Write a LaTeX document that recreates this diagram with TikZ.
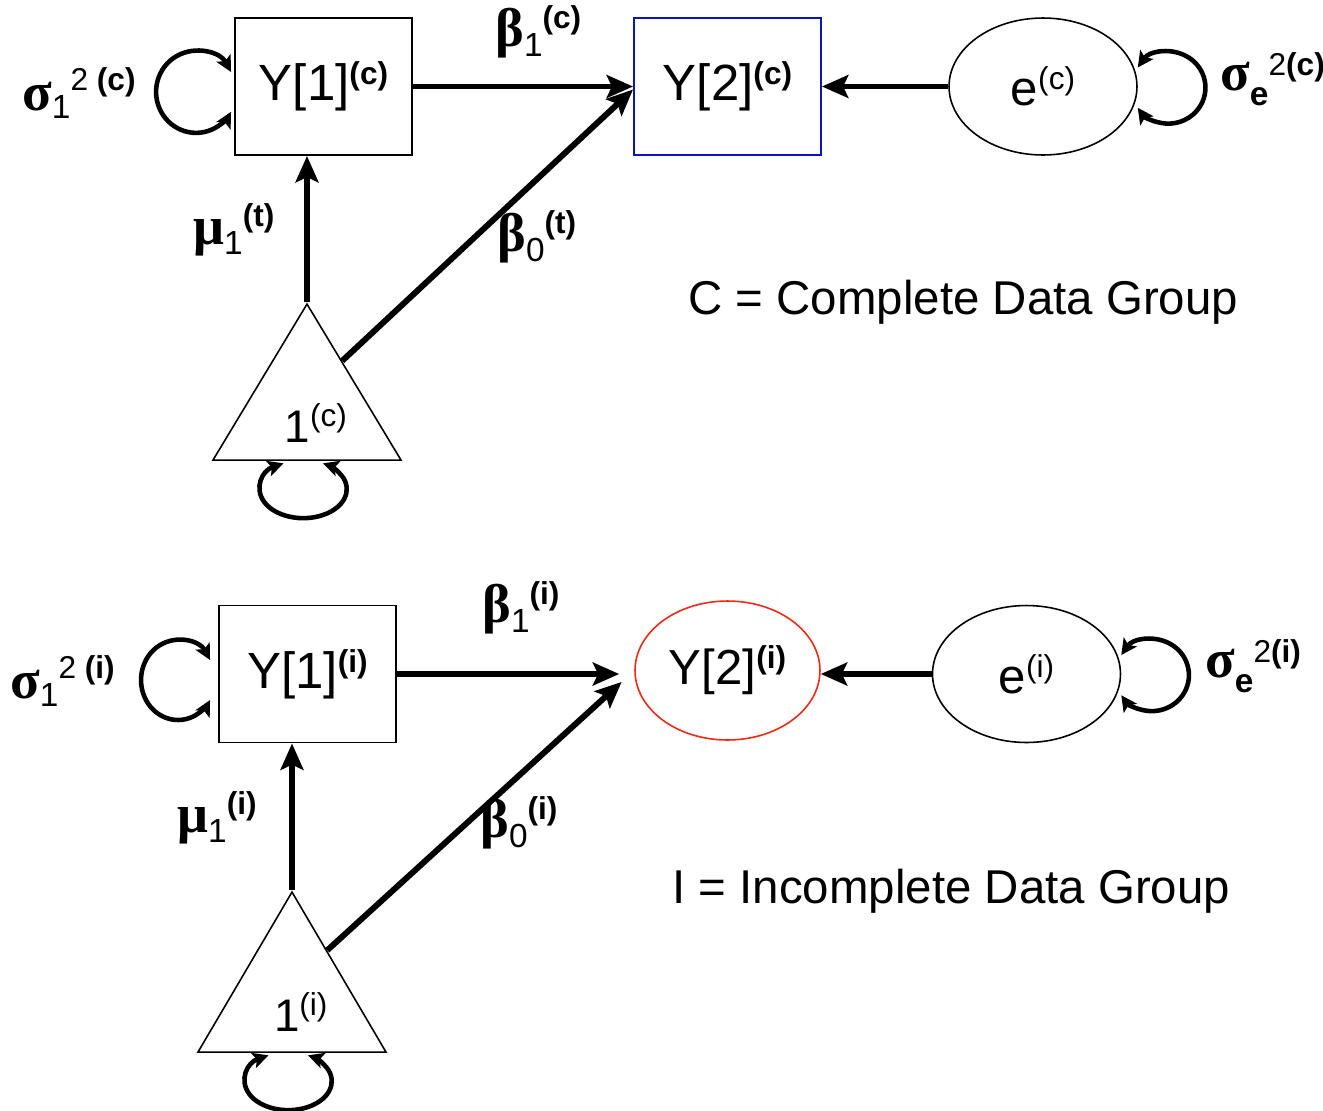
\documentclass[tikz,border=0pt]{standalone}
\usepackage{fontspec}
\setmainfont{Liberation Sans}
\newfontfamily\greekFont{Liberation Serif}
\usetikzlibrary{arrows.meta,shapes.geometric,calc}

\definecolor{boxBlue}{RGB}{10,20,185}
\definecolor{ovalRed}{RGB}{240,40,20}

\def \arrowWidth {3.4pt}
\def \loopWidth {2.6pt}

\newcommand{\greek}[1]{{\greekFont\bfseries\fontsize{31}{31}\selectfont #1}}
\newcommand{\subTxt}[2][5pt]{\raisebox{-#1}{\fontsize{19}{19}\selectfont #2}}
\newcommand{\supTxt}[2][10pt]{\raisebox{#1}{\fontsize{18}{18}\selectfont #2}}

\tikzset{
  var/.style={draw, line width=1.1pt, inner sep=0pt, minimum width=3.54cm,
    minimum height=2.74cm, font=\fontsize{29}{30}\selectfont},
  oval/.style={draw, ellipse, line width=0.9pt, inner sep=0pt, minimum width=3.76cm,
    minimum height=2.74cm, font=\fontsize{28}{30}\selectfont},
  const/.style={draw, isosceles triangle, shape border rotate=90,
    isosceles triangle stretches, line width=0.9pt, inner sep=0pt,
    minimum width=3.76cm, minimum height=3.12cm, font=\fontsize{26}{28}\selectfont},
  effect/.style={line width=\arrowWidth, -{Stealth[length=15pt,width=13pt,inset=3pt]}},
  variance/.style={line width=\loopWidth,
    {Stealth[length=9pt,width=9pt,inset=2pt]}-{Stealth[length=9pt,width=9pt,inset=2pt]}},
  lbl/.style={anchor=base west, inner sep=0pt},
  caption/.style={anchor=base west, inner sep=0pt, font=\fontsize{27}{30}\selectfont}
}

\begin{document}
\begin{tikzpicture}[x=0.02cm, y=-0.02cm]
  \useasboundingbox (0,0) rectangle (1323,1110);

  % complete data group
  \node[var] (y1c) at (323.5,86.5) {Y[1]\supTxt[9pt]{\textbf{(c)}}};
  \node[var, draw=boxBlue, minimum width=3.74cm] (y2c) at (727.5,86.5) {Y[2]\supTxt[9pt]{\textbf{(c)}}};
  \node[oval] (ec) at (1043,86.5) {e\supTxt[9pt]{(c)}};
  \node[const, anchor=apex] (tc) at (307,302) {\kern10pt 1\supTxt[9pt]{(c)}};

  \draw[effect] (y1c) -- (y2c);
  \draw[effect] (ec) -- (y2c);
  \draw[effect] (tc.apex) -- (tc.apex |- y1c.south);
  \draw[effect] ($(tc.apex)!0.37!(tc.right corner)$) -- ([yshift=-0.06cm]y2c.west);

  \draw[variance] ([xshift=-0.06cm,yshift=0.29cm]y1c.west)
    arc[start angle=29, end angle=331, x radius=0.8cm, y radius=0.82cm];
  \draw[variance] ([yshift=0.38cm]ec.east)
    arc[start angle=146, end angle=-146, x radius=0.74cm, y radius=0.72cm];
  \draw[variance] ([xshift=-0.47cm,yshift=-0.05cm]tc.lower side)
    arc[start angle=117, end angle=423, x radius=0.87cm, y radius=0.58cm];

  \node[lbl] (s1c) at (22,110) {\greek{σ}\subTxt{1}\supTxt[11pt]{2 \textbf{(c)}}};
  \node[lbl] (b1c) at (495,46) {\greek{β}\subTxt[6pt]{1}\supTxt{\textbf{(c)}}};
  \node[lbl] (m1c) at (193,244) {\greek{μ}\subTxt[6pt]{1}\supTxt{\textbf{(t)}}};
  \node[lbl] (b0c) at (497,251) {\greek{β}\subTxt[6pt]{0}\supTxt{\textbf{(t)}}};
  \node[lbl] (sec) at (1220,90) {\greek{σ}\subTxt[9pt]{\textbf{e}}\supTxt[8pt]{2\textbf{(c)}}};
  \node[caption] (capc) at (688,314) {C = Complete Data Group};

  % incomplete data group
  \node[var] (y1i) at (307.5,674) {Y[1]\supTxt[9pt]{\textbf{(i)}}};
  \node[oval, draw=ovalRed, minimum width=3.70cm, minimum height=2.78cm] (y2i) at (727.5,670.5) {Y[2]\supTxt[9pt]{\textbf{(i)}}};
  \node[oval] (ei) at (1026.5,674) {e\supTxt[9pt]{(i)}};
  \node[const, anchor=apex, minimum height=3.2cm] (ti) at (292,890) {\kern10pt 1\supTxt[9pt]{(i)}};

  \draw[effect, shorten >=0.3cm] (y1i.east) -- (y1i.east -| y2i.west);
  \draw[effect] (ei.west) -- (ei.west -| y2i.east);
  \draw[effect] (ti.apex) -- (ti.apex |- y1i.south);
  \draw[effect, shorten >=0.34cm] ($(ti.apex)!0.37!(ti.right corner)$) -- (y2i.west);

  \draw[variance] ([xshift=-0.16cm,yshift=0.28cm]y1i.west)
    arc[start angle=30, end angle=330, x radius=0.74cm, y radius=0.8cm];
  \draw[variance] ([yshift=0.38cm]ei.east)
    arc[start angle=146, end angle=-146, x radius=0.74cm, y radius=0.72cm];
  \draw[variance] ([xshift=-0.47cm,yshift=-0.05cm]ti.lower side)
    arc[start angle=117, end angle=423, x radius=0.87cm, y radius=0.58cm];

  \node[lbl] (s1i) at (10,698) {\greek{σ}\subTxt{1}\supTxt[11pt]{2 \textbf{(i)}}};
  \node[lbl] (b1i) at (482,622) {\greek{β}\subTxt[6pt]{1}\supTxt{\textbf{(i)}}};
  \node[lbl] (m1i) at (177,832) {\greek{μ}\subTxt[6pt]{1}\supTxt{\textbf{(i)}}};
  \node[lbl] (b0i) at (480,837) {\greek{β}\subTxt[6pt]{0}\supTxt{\textbf{(i)}}};
  \node[lbl] (sei) at (1205,677) {\greek{σ}\subTxt[9pt]{\textbf{e}}\supTxt[8pt]{2\textbf{(i)}}};
  \node[caption] (capi) at (672,903) {I = Incomplete Data Group};
\end{tikzpicture}
\end{document}
